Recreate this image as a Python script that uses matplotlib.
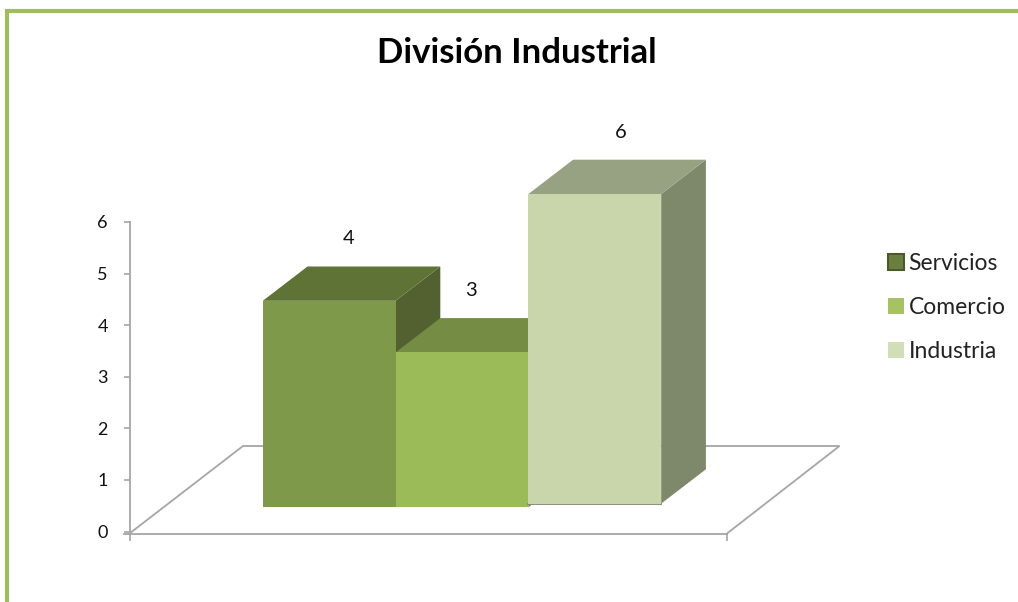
import matplotlib
matplotlib.use("Agg")
import matplotlib.pyplot as plt
from matplotlib.patches import Polygon, Patch

categories = ["Servicios", "Comercio", "Industria"]
values = [4, 3, 6]
yticks = [0, 1, 2, 3, 4, 5, 6]
title = "División Industrial"

front = ["#7F994A", "#9BBB59", "#C9D6AB"]
top = ["#5F7336", "#748C43", "#97A282"]
side = ["#52612F", "#61753A", "#7E886A"]
legend_fc = ["#6B8040", "#A6C262", "#D2DEB8"]
legend_ec = ["#4A5A2B", "none", "none"]
GREY = "#A6A6A6"
FONT = "Lato"

W, H = 1018, 602
UX, UY = 132.8, 51.6      # pixels per category / per value
X0, Y0 = 262.8, 531.6     # pixel of category origin / value 0
fig = plt.figure(figsize=(W / 100, H / 100), dpi=100, facecolor="white")
ax = fig.add_axes([0, 0, 1, 1])
ax.set_xlim(-X0 / UX, (W - X0) / UX)
ax.set_ylim((Y0 - H) / UY, Y0 / UY)
ax.patch.set_visible(False)

px = lambda v: (v - X0) / UX
py = lambda v: (Y0 - v) / UY
dx, dy = 44.7 / UX, 34.3 / UY              # depth of a bar
bases = [py(507.2), py(507.2), py(503.6)]  # front-base level of each bar
label_dx = [-2.5, -13.5, 4.0]              # label offset (px) from bar centre
label_dy = [28.0, 28.0, 27.0]              # label offset (px) above back edge

# floor
fy = py(533.5)
fx0, fx1 = px(129.5), px(727)
fx2, fx3 = px(243), px(839.5)
fback = py(446)
ax.plot([fx0, fx2, fx3, fx1], [fy, fback, fback, fy], color=GREY, lw=1.3, zorder=1,
        solid_joinstyle="miter")

# axes via spines
for s in ("top", "right"):
    ax.spines[s].set_visible(False)
ax.spines["left"].set_position(("data", fx0))
ax.spines["left"].set_bounds(fy, 6)
ax.spines["bottom"].set_position(("data", fy))
ax.spines["bottom"].set_bounds(px(124), fx1)
for s in ("left", "bottom"):
    ax.spines[s].set_color(GREY)
    ax.spines[s].set_linewidth(1.3)
ax.set_yticks(yticks)
ax.set_xticks([fx0, fx1])
ax.set_xticklabels([])
ax.tick_params(axis="y", color=GREY, width=1.2, length=4.5, direction="out",
               labelsize=13, labelcolor="#111111", pad=11)
ax.tick_params(axis="x", color=GREY, width=1.2, length=5, direction="out")
for t in ax.get_yticklabels():
    t.set_fontfamily(FONT)

# 3-D bars, drawn left to right so that neighbours overlap as in the reference
for i in range(3):
    v, b = values[i], bases[i]
    x0, x1 = i, i + 1
    y0, y1 = b, b + v
    z = 3 + i * 0.1
    ax.add_patch(Polygon([(x1, y0), (x1 + dx, y0 + dy), (x1 + dx, y1 + dy), (x1, y1)],
                         fc=side[i], ec="none", zorder=z))
    ax.add_patch(Polygon([(x0, y1), (x1, y1), (x1 + dx, y1 + dy), (x0 + dx, y1 + dy)],
                         fc=top[i], ec="none", zorder=z))
    ax.add_patch(Polygon([(x0, y0), (x1, y0), (x1, y1), (x0, y1)],
                         fc=front[i], ec="none", zorder=z + 0.01))
    ax.text(i + 0.5 + dx / 2 + label_dx[i] / UX, y1 + dy + label_dy[i] / UY, str(v),
            ha="center", va="center", fontsize=14.5, family=FONT, color="#111111", zorder=7)
# thin shadow under the last bar
ax.plot([2, 3], [bases[2], bases[2]], color="#8A8F7C", lw=1.4, zorder=3.15)

# border (top and left only)
ax.plot([px(7), px(7), px(1018)], [py(602), py(11), py(11)],
        color="#9FBE5B", lw=3.0, solid_joinstyle="miter", zorder=6)

fig.text(517 / W, 1 - 63 / H, title, ha="center", va="baseline", fontsize=25,
         fontweight="bold", family=FONT, color="black")

handles = [Patch(fc=c, ec=e, lw=1.5) for c, e in zip(legend_fc, legend_ec)]
leg = ax.legend(handles, categories, loc="center left",
                bbox_to_anchor=(888 / W, 1 - 307.5 / H), frameon=False,
                prop={"family": FONT, "size": 16.5}, handlelength=0.7, handleheight=0.7,
                handletextpad=0.2, labelspacing=1.02, borderpad=0, borderaxespad=0)
for t in leg.get_texts():
    t.set_color("#222222")

fig.savefig("out.png", dpi=100, facecolor="white")
